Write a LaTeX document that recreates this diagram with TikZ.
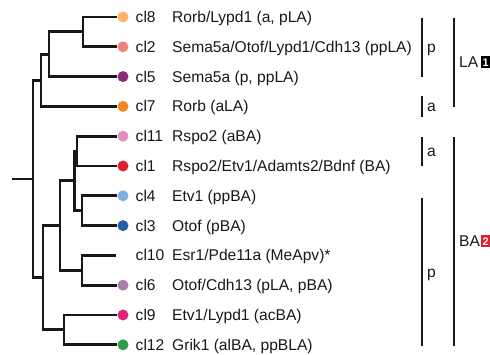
\documentclass[tikz,border=0pt]{standalone}
\usepackage{fontspec}
\setmainfont{Liberation Sans}
\usepackage{tikz}
\usetikzlibrary{positioning}
\definecolor{ccl8}{HTML}{FBB560}
\definecolor{ccl2}{HTML}{F2837A}
\definecolor{ccl5}{HTML}{8A2B78}
\definecolor{ccl7}{HTML}{F5861F}
\definecolor{ccl11}{HTML}{E48DC0}
\definecolor{ccl1}{HTML}{DF1F2B}
\definecolor{ccl4}{HTML}{7EB1DE}
\definecolor{ccl3}{HTML}{1F5EA8}
\definecolor{ccl6}{HTML}{A97CAA}
\definecolor{ccl9}{HTML}{E6207F}
\definecolor{ccl12}{HTML}{2A9F48}
\definecolor{txt}{HTML}{1A1718}
\tikzset{
  branch/.style={line width=2.8pt,line join=miter,color=txt},
  brk/.style={line width=1.4pt,color=txt},
  dot/.style={circle,inner sep=0pt,minimum size=11pt},
  lbl/.style={anchor=base west,inner sep=0pt,text=txt,font=\fontsize{15.6}{18}\selectfont},
  tag/.style={anchor=west,inner sep=0pt,minimum width=9pt,minimum height=12pt,text=white,font=\fontsize{11}{11}\selectfont\bfseries}
}
\begin{document}
\begin{tikzpicture}[x=1pt,y=-1pt]
\clip (0,0) rectangle (490,355);
% leaves
\node[dot,fill=ccl8] (d8) at (123,17) {};
\node[dot,fill=ccl2] (d2) at (123,46.8) {};
\node[dot,fill=ccl5] (d5) at (123,76.6) {};
\node[dot,fill=ccl7] (d7) at (123,106.4) {};
\node[dot,fill=ccl11] (d11) at (123,136.2) {};
\node[dot,fill=ccl1] (d1) at (123,166) {};
\node[dot,fill=ccl4] (d4) at (123,195.8) {};
\node[dot,fill=ccl3] (d3) at (123,225.6) {};
\coordinate (d10) at (116,255.4);
\node[dot,fill=ccl6] (d6) at (123,285.2) {};
\node[dot,fill=ccl9] (d9) at (123,315) {};
\node[dot,fill=ccl12] (d12) at (123,344.8) {};

% inner nodes
\coordinate (n82) at (83,31.9);
\coordinate (n5) at (49,54.25);
\coordinate (nLA) at (41,80.3);
\coordinate (n111) at (77,151.1);
\coordinate (n43) at (82,210.7);
\coordinate (n1143) at (74.5,180.9);
\coordinate (n106) at (82,270.3);
\coordinate (nB1) at (60,225.6);
\coordinate (n912) at (64,329.9);
\coordinate (nBA) at (43,277.75);
\coordinate (root) at (33,179);
\coordinate (stub) at (12,179);

\draw[branch] (d8) -| (n82) |- (d2);
\draw[branch] (n82) -| (n5) |- (d5);
\draw[branch] (n5) -| (nLA) |- (d7);
\draw[branch] (d11) -| (n111) |- (d1);
\draw[branch] (d4) -| (n43) |- (d3);
\draw[branch] (n111) -| (n1143) |- (n43);
\draw[branch] (d10) -| (n106) |- (d6);
\draw[branch] (n1143) -| (nB1) |- (n106);
\draw[branch] (d9) -| (n912) |- (d12);
\draw[branch] (nB1) -| (nBA) |- (n912);
\draw[branch] (nLA) -| (root) |- (nBA);
\draw[branch] (stub) -- (root);

% cluster names
\node[lbl] (cl8) at (135.5,22.6) {cl8};
\node[lbl] (cl2) at (135.5,52.4) {cl2};
\node[lbl] (cl5) at (135.5,82.2) {cl5};
\node[lbl] (cl7) at (135.5,112) {cl7};
\node[lbl] (cl11) at (135.5,141.8) {cl11};
\node[lbl] (cl1) at (135.5,171.6) {cl1};
\node[lbl] (cl4) at (135.5,201.4) {cl4};
\node[lbl] (cl3) at (135.5,231.2) {cl3};
\node[lbl] (cl10) at (135.5,261) {cl10};
\node[lbl] (cl6) at (135.5,290.8) {cl6};
\node[lbl] (cl9) at (135.5,320.6) {cl9};
\node[lbl] (cl12) at (135.5,350.4) {cl12};

% markers
\node[lbl] (t8) at (172,22.6) {Rorb/Lypd1 (a, pLA)};
\node[lbl] (t2) at (172,52.4) {Sema5a/Otof/Lypd1/Cdh13 (ppLA)};
\node[lbl] (t5) at (172,82.2) {Sema5a (p, ppLA)};
\node[lbl] (t7) at (172,112) {Rorb (aLA)};
\node[lbl] (t11) at (172,141.8) {Rspo2 (aBA)};
\node[lbl] (t1) at (172,171.6) {Rspo2/Etv1/Adamts2/Bdnf (BA)};
\node[lbl] (t4) at (172,201.4) {Etv1 (ppBA)};
\node[lbl] (t3) at (172,231.2) {Otof (pBA)};
\node[lbl] (t10) at (172,261) {Esr1/Pde11a (MeApv)*};
\node[lbl] (t6) at (172,290.8) {Otof/Cdh13 (pLA, pBA)};
\node[lbl] (t9) at (172,320.6) {Etv1/Lypd1 (acBA)};
\node[lbl] (t12) at (172,350.4) {Grik1 (alBA, ppBLA)};

% brackets
\coordinate (pLAt) at (422,18);
\coordinate (pLAb) at (422,77);
\coordinate (aLAt) at (422,96);
\coordinate (aLAb) at (422,117);
\coordinate (LAt) at (454,18);
\coordinate (LAb) at (454,107);
\coordinate (aBAt) at (422,137);
\coordinate (aBAb) at (422,166);
\coordinate (pBAt) at (422,198);
\coordinate (pBAb) at (422,346);
\coordinate (BAt) at (454,137);
\coordinate (BAb) at (454,346);
\draw[brk] (pLAt) -- (pLAb);
\draw[brk] (aLAt) -- (aLAb);
\draw[brk] (LAt) -- (LAb);
\draw[brk] (aBAt) -- (aBAb);
\draw[brk] (pBAt) -- (pBAb);
\draw[brk] (BAt) -- (BAb);
\node[lbl] (pLA) at (427,53) {p};
\node[lbl] (aLA) at (427,112) {a};
\node[lbl] (aBA) at (427,157) {a};
\node[lbl] (pBA) at (427,278) {p};
\node[lbl] (LA) at (459,68) {LA};
\node[lbl] (BA) at (459,247) {BA};
\node[tag,fill=black] (one) at (481,62.5) {1};
\node[tag,fill=ccl1] (two) at (481,241.5) {2};
\end{tikzpicture}
\end{document}
